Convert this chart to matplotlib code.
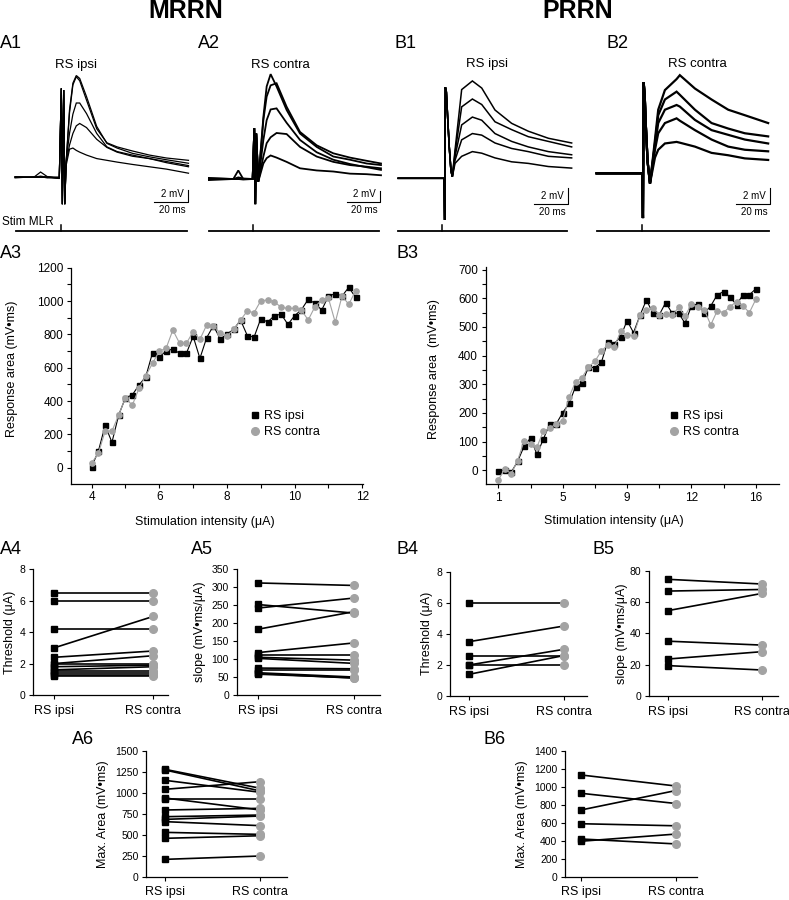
import matplotlib
matplotlib.use('Agg')
import matplotlib.pyplot as plt
from matplotlib.lines import Line2D
import numpy as np

plt.rcParams['font.family'] = ['Liberation Sans', 'DejaVu Sans']

GRAY = '#a3a3a3'

# ---- intracellular traces (ms, mV) ----
t_a1 = [-27, -16, -12, -8, -1, 0.2, 0.8, 1.6, 2.2, 3, 5, 7, 9, 11, 15, 21, 27, 33, 42, 52, 62, 75]
a1_traces = [
    [0, 0, 0.9, 0.1, -0.2, 15.2, -4.6, 14.9, -4.6, 2.4, 11.5, 16.1, 17.4, 16.9, 13.8, 8.7, 5.8, 5.0, 4.1, 3.5, 3.0, 2.4],
    [0.1, 0, 0.2, 0, -0.1, 15.2, -4.6, 14.9, -4.6, 2.8, 7.5, 10.8, 12.7, 12.7, 10.9, 7.5, 5.2, 4.4, 3.8, 3.2, 2.7, 2.0],
    [-0.1, 0.1, 0, 0.1, 0, 15.2, -4.6, 14.9, -4.6, 2.5, 5.5, 7.5, 8.8, 9.2, 8.5, 6.5, 5.1, 4.3, 3.6, 3.2, 2.5, 1.8],
    [0, 0, 0.1, -0.1, 0, 15.2, -4.6, 14.9, -4.6, 2.0, 4.8, 5.0, 4.6, 4.3, 3.8, 3.2, 2.9, 2.6, 2.2, 1.8, 1.4, 0.7],
    [0.1, 0, 0, 0, -0.2, 15.2, -4.6, 14.9, -4.6, 2.6, 11.0, 15.8, 17.2, 16.5, 13.2, 8.3, 5.9, 5.2, 4.5, 3.8, 3.3, 2.9],
]

t_a2 = [-26.9, -12.1, -9.1, -6.1, -0.4, 0.6, 1.2, 1.8, 3.0, 6.1, 8.1, 10.5, 14.1, 20.2, 28.3, 38.4, 48.5, 58.6, 68.7, 77.4]
a2_traces = [
    [0, 0, 1.6, 0, 0, 9.5, -4.7, 8.5, -0.5, 11.6, 17.3, 19.6, 17.3, 12.9, 8.5, 6.0, 4.2, 3.6, 2.9, 2.6],
    [0.2, 0, 0.3, 0.1, 0, 9.5, -4.7, 8.5, -0.5, 11.0, 15.4, 17.5, 17.9, 13.5, 8.8, 6.3, 4.8, 4.0, 3.4, 2.9],
    [-0.2, 0, 0, -0.1, 0, 9.5, -4.7, 8.5, -0.5, 7.3, 11.0, 13.0, 13.2, 10.5, 7.3, 5.0, 3.6, 2.8, 2.2, 1.7],
    [0.1, 0, 0, 0, 0, 9.5, -4.7, 8.5, -0.5, 4.2, 6.7, 7.8, 8.6, 8.4, 6.0, 4.2, 3.2, 2.6, 2.3, 2.0],
    [0, 0, 0, 0, 0, 9.5, -4.7, 8.5, -0.5, 2.9, 3.9, 4.4, 4.0, 3.2, 2.0, 1.6, 1.4, 1.0, 0.9, 0.7],
]

t_b1 = [-27.5, -9.8, -0.6, -0.2, 0.2, 0.8, 1.5, 2.5, 3.5, 4.3, 5.9, 9.8, 16.1, 21.6, 29.4, 39.2, 49.0, 60.8, 74.5]
b1_traces = [
    [0, 0, 0, -5.3, 11.6, 11.0, 8.0, 4.0, 1.0, 0.2, 3.6, 11.3, 12.4, 11.5, 8.7, 7.0, 6.0, 5.1, 4.5],
    [0, 0, 0, -5.3, 11.6, 11.0, 8.0, 4.0, 1.0, 0.2, 3.2, 9.1, 10.1, 9.4, 7.2, 6.2, 5.3, 4.7, 4.0],
    [0, 0, 0, -5.3, 11.6, 11.0, 8.0, 4.0, 1.0, 0.2, 2.8, 6.8, 7.8, 7.4, 5.7, 4.7, 4.0, 3.4, 3.0],
    [0, 0, 0, -5.3, 11.6, 11.0, 8.0, 4.0, 1.0, 0.2, 2.3, 4.9, 5.7, 5.5, 4.5, 3.8, 3.4, 2.8, 2.6],
    [0, 0, 0, -5.3, 11.6, 11.0, 8.0, 4.0, 1.0, 0.2, 1.9, 2.8, 3.4, 3.2, 2.6, 2.1, 1.9, 1.5, 1.3],
]

t_b2 = [-27.2, -10, -0.6, -0.2, 0.2, 0.8, 1.5, 2.5, 3.9, 6.8, 8.7, 12.6, 19.4, 21.3, 30.1, 39.8, 49.5, 59.2, 72.8]
b2_traces = [
    [0, 0, 0, -5.7, 11.6, 10.0, 6.0, 1.5, -1.3, 4.3, 8.1, 10.6, 12.0, 12.5, 10.8, 9.4, 8.1, 7.4, 6.4],
    [0, 0, 0, -5.7, 11.6, 10.0, 6.0, 1.5, -1.3, 3.8, 7.4, 9.4, 10.4, 10.0, 8.1, 6.4, 5.7, 5.1, 4.7],
    [0, 0, 0, -5.7, 11.6, 10.0, 6.0, 1.5, -1.3, 3.5, 6.4, 8.1, 8.7, 8.5, 6.8, 5.5, 4.9, 4.3, 3.8],
    [0, 0, 0, -5.7, 11.6, 10.0, 6.0, 1.5, -1.3, 3.0, 5.1, 6.4, 7.0, 6.7, 5.5, 4.3, 3.4, 3.0, 2.8],
    [0, 0, 0, -5.7, 11.6, 10.0, 6.0, 1.5, -1.3, 2.0, 3.0, 3.8, 4.0, 3.9, 3.4, 2.6, 2.3, 1.9, 1.7],
]

# ---- recruitment curves ----
a3_intensity = [4.0, 4.2, 4.4, 4.6, 4.8, 5.0, 5.2, 5.4, 5.6, 5.8, 6.0, 6.2, 6.4, 6.6, 6.8, 7.0, 7.2, 7.4,
                7.6, 7.8, 8.0, 8.2, 8.4, 8.6, 8.8, 9.0, 9.2, 9.4, 9.6, 9.8, 10.0, 10.2, 10.4, 10.6, 10.8,
                11.0, 11.2, 11.4, 11.6, 11.8]
a3_ipsi = [5, 100, 254, 152, 316, 420, 436, 496, 546, 690, 664, 700, 712, 686, 686, 788, 656, 780, 852, 772,
           802, 830, 886, 793, 783, 895, 874, 912, 921, 860, 912, 948, 1010, 986, 946, 1030, 1044, 1030, 1082, 1022]
a3_contra = [28, 86, 220, 220, 316, 420, 374, 476, 552, 626, 700, 716, 826, 746, 746, 816, 770, 856, 852, 806,
             790, 830, 886, 940, 930, 1002, 1006, 996, 962, 956, 956, 946, 886, 966, 1006, 1016, 872, 1030, 980, 1062]

b3_ipsi = [-3, 1, -7, 31, 83, 113, 55, 109, 162, 162, 201, 233, 292, 303, 360, 358, 376, 449, 441, 466,
           522, 480, 540, 594, 548, 542, 585, 548, 548, 513, 573, 580, 548, 573, 612, 623, 604, 577, 612, 612, 633]
b3_contra = [-34, 5, -12, 34, 102, 91, 81, 137, 147, 162, 173, 256, 309, 323, 360, 380, 416, 437, 429, 484,
             472, 469, 540, 559, 565, 542, 544, 540, 568, 538, 579, 568, 559, 507, 556, 550, 571, 588, 573, 550, 596]
b3_tick_pos = [0, 10, 20, 30, 40]
b3_tick_lab = ['1', '5', '9', '12', '16']

# ---- paired values, ipsi vs contra ----
a4_ipsi = [6.5, 6.0, 4.2, 3.0, 2.4, 2.0, 2.0, 1.8, 1.6, 1.5, 1.4, 1.3, 1.2]
a4_contra = [6.5, 6.0, 4.2, 5.0, 2.8, 2.5, 2.0, 1.9, 1.8, 1.5, 1.4, 1.3, 1.2]
a5_ipsi = [312, 252, 242, 183, 118, 112, 105, 102, 75, 70, 62, 60, 58]
a5_contra = [305, 228, 270, 232, 145, 112, 97, 88, 73, 70, 50, 47, 48]
b4_ipsi = [6.0, 3.5, 2.6, 2.0, 2.0, 1.4]
b4_contra = [6.0, 4.5, 2.6, 3.0, 2.0, 2.6]
b5_ipsi = [74.5, 67.0, 54.5, 35.0, 23.6, 19.4]
b5_contra = [71.5, 68.0, 65.5, 32.5, 28.3, 16.6]
a6_ipsi = [1281, 1273, 1150, 1043, 939, 923, 796, 716, 684, 657, 529, 458, 207]
a6_contra = [1055, 1023, 1007, 1134, 796, 923, 816, 736, 724, 609, 505, 489, 247]
b6_ipsi = [1133, 929, 743, 590, 420, 395]
b6_contra = [1010, 815, 960, 567, 365, 475]

W, H = 789, 900
fig = plt.figure(figsize=(W / 100, H / 100), dpi=100)


def box(x0, y0, x1, y1):
    return fig.add_axes([x0 / W, 1 - y1 / H, (x1 - x0) / W, (y1 - y0) / H])


def ftext(x, y, s, **kw):
    fig.text(x / W, 1 - y / H, s, **kw)


def trace_panel(x0, x1, stim_px, tick_px, base_px, ms_px, mv_px, t, traces, lw, bar_x, bar_y):
    y0, y1 = 70, 236
    ax = box(x0, y0, x1, y1)
    ax.set_xlim((x0 - stim_px) * ms_px, (x1 - stim_px) * ms_px)
    ax.set_ylim((base_px - y1) * mv_px, (base_px - y0) * mv_px)
    ax.axis('off')
    for v in traces:
        ax.plot(t, v, color='k', lw=lw, solid_joinstyle='miter')
    # stimulation marker line
    ys = (base_px - 231) * mv_px
    ax.plot([(x0 + 2 - stim_px) * ms_px, (bar_x - 1 - stim_px) * ms_px], [ys, ys], color='k', lw=1.3)
    tt = (tick_px - stim_px) * ms_px
    ax.plot([tt, tt], [ys, ys + 6 * mv_px], color='k', lw=1.1)
    # scale bars: 20 ms, 2 mV
    bx = (bar_x - stim_px) * ms_px
    by = (base_px - bar_y) * mv_px
    ax.plot([bx - 20, bx, bx], [by, by, by + 2], color='k', lw=0.8)
    bar_w = 20 / ms_px
    ftext(bar_x - 4, bar_y - 8, '2 mV', ha='right', va='center', fontsize=7)
    ftext(bar_x - bar_w / 2 + 1, bar_y + 8, '20 ms', ha='center', va='center', fontsize=7)


def style_axes(ax, tick_fs):
    for s in ['top', 'right']:
        ax.spines[s].set_visible(False)
    for s in ['left', 'bottom']:
        ax.spines[s].set_linewidth(0.9)
    ax.tick_params(which='both', direction='out', length=3, width=0.8, labelsize=tick_fs, pad=2.5)


def pair_panel(x0, y0, x1, y1, xl, ymax, ystep, ipsi, contra, ylabel, ylab_x):
    ax = box(x0, y0, x1, y1)
    for a, b in zip(ipsi, contra):
        ax.plot([0, 1], [a, b], color='k', lw=1.2, zorder=1)
    ax.plot(np.zeros(len(ipsi)), ipsi, 's', color='k', ms=5, zorder=3, clip_on=False)
    ax.plot(np.ones(len(contra)), contra, 'o', color=GRAY, ms=5.5, zorder=3, clip_on=False)
    ax.set_xlim(*xl)
    ax.set_ylim(0, ymax)
    ax.set_yticks(np.arange(0, ymax + ystep / 2, ystep))
    ax.set_xticks([0, 1])
    ax.set_xticklabels(['RS ipsi', 'RS contra'])
    style_axes(ax, 7.5)
    ax.tick_params(axis='x', labelsize=9, pad=4)
    ax.set_ylabel(ylabel, fontsize=9)
    ax.yaxis.label.set_va('center')
    ax.yaxis.set_label_coords((ylab_x - x0) / (x1 - x0), 0.5)
    return ax


# ---- headings ----
ftext(186, 11, 'MRRN', ha='center', va='center', fontsize=18, fontweight='bold')
ftext(578, 11, 'PRRN', ha='center', va='center', fontsize=18, fontweight='bold')
for lab, x, y in [('A1', 0, 44), ('A2', 198, 44), ('B1', 394, 44), ('B2', 607, 44),
                  ('A3', 0, 254), ('B3', 397, 254),
                  ('A4', 0, 550), ('A5', 191, 550), ('B4', 397, 550), ('B5', 592, 550),
                  ('A6', 72, 739), ('B6', 484, 739)]:
    ftext(x, y, lab, ha='left', va='center', fontsize=13)

# ---- A1, A2, B1, B2 traces ----
trace_panel(14, 192, 61, 61, 177.3, 20 / 34, 2 / 11.7, t_a1, a1_traces, 0.9, 188, 202)
trace_panel(207, 384, 253.3, 253, 179, 20 / 33, 2 / 10.7, t_a2, a2_traces, 1.3, 380, 202)
trace_panel(396, 575, 445, 442, 178.3, 20 / 34, 2 / 15.7, t_b1, b1_traces, 1.1, 568, 204)
trace_panel(595, 773, 643.3, 641.7, 173.3, 20 / 34.3, 2 / 15.7, t_b2, b2_traces, 1.6, 770, 204)
ftext(76, 65, 'RS ipsi', ha='center', va='center', fontsize=9.5)
ftext(280, 65, 'RS contra', ha='center', va='center', fontsize=9.5)
ftext(487, 64, 'RS ipsi', ha='center', va='center', fontsize=9.5)
ftext(697, 64, 'RS contra', ha='center', va='center', fontsize=9.5)
ftext(2, 222, 'Stim MLR', ha='left', va='center', fontsize=8.5)

legend_handles = [Line2D([], [], marker='s', color='k', ls='none', ms=5),
                  Line2D([], [], marker='o', color=GRAY, ls='none', ms=5.5)]

# ---- A3 ----
ax = box(71, 267.7, 363, 483.5)
ax.plot(a3_intensity, a3_ipsi, '-s', color='k', lw=0.8, ms=3.6)
ax.plot(a3_intensity, a3_contra, '-o', color=GRAY, lw=0.8, ms=3.8)
ax.set_xlim(3.39, 12.02)
ax.set_ylim(-95, 1200)
ax.set_xticks(np.arange(4, 12.1, 2))
ax.set_xticks(np.arange(5, 12, 2), minor=True)
ax.set_yticks(np.arange(0, 1201, 200))
ax.set_yticks(np.arange(100, 1200, 200), minor=True)
style_axes(ax, 8.5)
ax.set_ylabel('Response area (mV\u2022ms)', fontsize=9)
ax.yaxis.label.set_va('center')
ax.yaxis.set_label_coords((12 - 71) / 292, 0.53)
ax.set_xlabel('Stimulation intensity (\u03bcA)', fontsize=9)
ax.xaxis.label.set_va('center')
ax.xaxis.set_label_coords((205 - 71) / 292, -(522 - 483.5) / 215.8)
ax.legend(legend_handles, ['RS ipsi', 'RS contra'], loc='upper left', bbox_to_anchor=(0.614, 0.34),
          frameon=False, handlelength=0.8, handletextpad=0.3, labelspacing=0.3, borderpad=0,
          borderaxespad=0, fontsize=9)

# ---- B3 ----
ax = box(485.7, 266.7, 779, 484.3)
b3_step = np.arange(len(b3_ipsi))
ax.plot(b3_step, b3_ipsi, '-s', color='k', lw=0.8, ms=3.6)
ax.plot(b3_step, b3_contra, '-o', color=GRAY, lw=0.8, ms=3.8)
ax.set_xlim(-1.96, 43.6)
ax.set_ylim(-49, 710)
ax.set_xticks(b3_tick_pos)
ax.set_xticklabels(b3_tick_lab)
ax.set_xticks([5, 15, 25, 35], minor=True)
ax.set_yticks(np.arange(0, 701, 100))
ax.set_yticks(np.arange(50, 701, 100), minor=True)
style_axes(ax, 8.5)
ax.set_ylabel('Response area  (mV\u2022ms)', fontsize=9)
ax.yaxis.label.set_va('center')
ax.yaxis.set_label_coords((434 - 485.7) / 293.3, 0.53)
ax.set_xlabel('Stimulation intensity (\u03bcA)', fontsize=9)
ax.xaxis.label.set_va('center')
ax.xaxis.set_label_coords((614 - 485.7) / 293.3, -(521 - 484.3) / 217.6)
ax.legend(legend_handles, ['RS ipsi', 'RS contra'], loc='upper left', bbox_to_anchor=(0.626, 0.34),
          frameon=False, handlelength=0.8, handletextpad=0.3, labelspacing=0.3, borderpad=0,
          borderaxespad=0, fontsize=9)

# ---- A4, A5, B4, B5, A6, B6 ----
pair_panel(33.3, 569.3, 168, 695, (-0.21, 1.15), 8, 2, a4_ipsi, a4_contra, 'Threshold (\u03bcA)', 10)
pair_panel(236.7, 569.3, 380, 695, (-0.218, 1.27), 350, 50, a5_ipsi, a5_contra,
           'slope (mV\u2022ms/\u03bcA)', 200)
pair_panel(450, 571.7, 586.7, 696, (-0.205, 1.245), 8, 2, b4_ipsi, b4_contra, 'Threshold (\u03bcA)', 427)
pair_panel(649, 570.7, 778, 696, (-0.2, 1.17), 80, 20, b5_ipsi, b5_contra,
           'slope (mV\u2022ms/\u03bcA)', 622)
pair_panel(146, 751, 287, 876.7, (-0.2, 1.28), 1500, 250, a6_ipsi, a6_contra,
           'Max. Area (mV\u2022ms)', 103)
pair_panel(565, 751, 697, 876.7, (-0.168, 1.22), 1400, 200, b6_ipsi, b6_contra,
           'Max. Area (mV\u2022ms)', 522)

fig.savefig('out.png', dpi=100)
